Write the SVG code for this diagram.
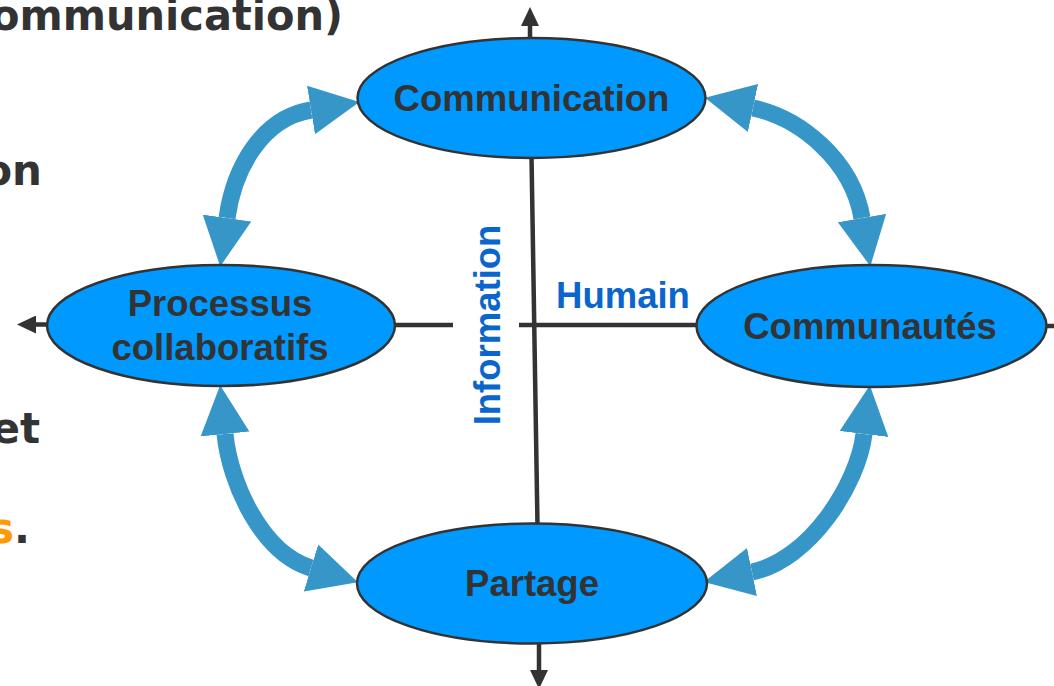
<svg xmlns="http://www.w3.org/2000/svg" width="1054" height="686" viewBox="0 0 1054 686">
<style>
.bg{fill:#ffffff}
.node{fill:#0099FF;stroke:#333333;stroke-width:2.5}
.lbl{font-family:"Liberation Sans",Arial,sans-serif;font-weight:bold;font-size:36.5px;fill:#333333;text-anchor:middle}
.axis{stroke:#333333;stroke-width:4.5;fill:none}
.arc{stroke:#3796C8;stroke-width:17;fill:none}
.axlbl{font-family:"Liberation Sans",Arial,sans-serif;font-weight:bold;font-size:36.5px;fill:#0A66CC;text-anchor:middle}
.side{font-family:"DejaVu Sans",Verdana,sans-serif;font-weight:bold;font-size:42px;fill:#333333;text-anchor:end}
</style>
<defs>
<marker id="ah" markerUnits="userSpaceOnUse" markerWidth="50" markerHeight="50" refX="0" refY="24.5" orient="auto-start-reverse" viewBox="0 0 50 49">
<polygon points="0,0 49,24.5 0,49" fill="#3796C8"/>
</marker>
<marker id="ax" markerUnits="userSpaceOnUse" markerWidth="20" markerHeight="18" refX="0" refY="9" orient="auto" viewBox="0 0 20 18">
<polygon points="0,0 19,9 0,18" fill="#333333"/>
</marker>
</defs>
<rect class="bg" x="0" y="0" width="1054" height="686"/>
<g id="side-text">
<text class="side" x="343" y="30" font-size="44" textLength="352" lengthAdjust="spacingAndGlyphs">ommunication)</text>
<text class="side" x="42" y="185">on</text>
<text class="side" x="40" y="443">et</text>
<text class="side" x="30" y="543"><tspan fill="#FF9900">s</tspan>.</text>
</g>
<g id="connectors">
<line class="axis" x1="530" y1="40" x2="530" y2="26" marker-end="url(#ax)"/>
<line class="axis" x1="531.5" y1="156" x2="537.5" y2="526"/>
<line class="axis" x1="539" y1="641" x2="539" y2="670" marker-end="url(#ax)"/>
<line class="axis" x1="50" y1="324.5" x2="36" y2="324.5" marker-end="url(#ax)"/>
<line class="axis" x1="393" y1="325" x2="453" y2="325"/>
<line class="axis" x1="519" y1="325" x2="698" y2="325"/>
<line class="axis" x1="1045" y1="326" x2="1054" y2="326"/>
<path class="arc" d="M227,218 C234,168 262,118 311,110" marker-start="url(#ah)" marker-end="url(#ah)"/>
<path class="arc" d="M753,108 C800,118 852,160 862,218" marker-start="url(#ah)" marker-end="url(#ah)"/>
<path class="arc" d="M225,434 C230,484 262,553 311,568" marker-start="url(#ah)" marker-end="url(#ah)"/>
<path class="arc" d="M864,434 C858,484 810,560 752,572" marker-start="url(#ah)" marker-end="url(#ah)"/>
</g>
<g id="node-communication">
<ellipse class="node" cx="531.5" cy="98" rx="174" ry="60"/>
<text class="lbl" x="531.5" y="111">Communication</text>
</g>
<g id="node-processus">
<ellipse class="node" cx="221" cy="325.5" rx="174" ry="60.5"/>
<text class="lbl" x="220" y="316">Processus</text>
<text class="lbl" x="220" y="360">collaboratifs</text>
</g>
<g id="node-communautes">
<ellipse class="node" cx="871.5" cy="326" rx="175" ry="61"/>
<text class="lbl" x="870" y="339">Communautés</text>
</g>
<g id="node-partage">
<ellipse class="node" cx="532" cy="583.5" rx="175" ry="60"/>
<text class="lbl" x="532" y="596">Partage</text>
</g>
<g id="axis-labels">
<text class="axlbl" x="623" y="308">Humain</text>
<text class="axlbl" transform="translate(500,325) rotate(-90)" x="0" y="0">Information</text>
</g>
</svg>
